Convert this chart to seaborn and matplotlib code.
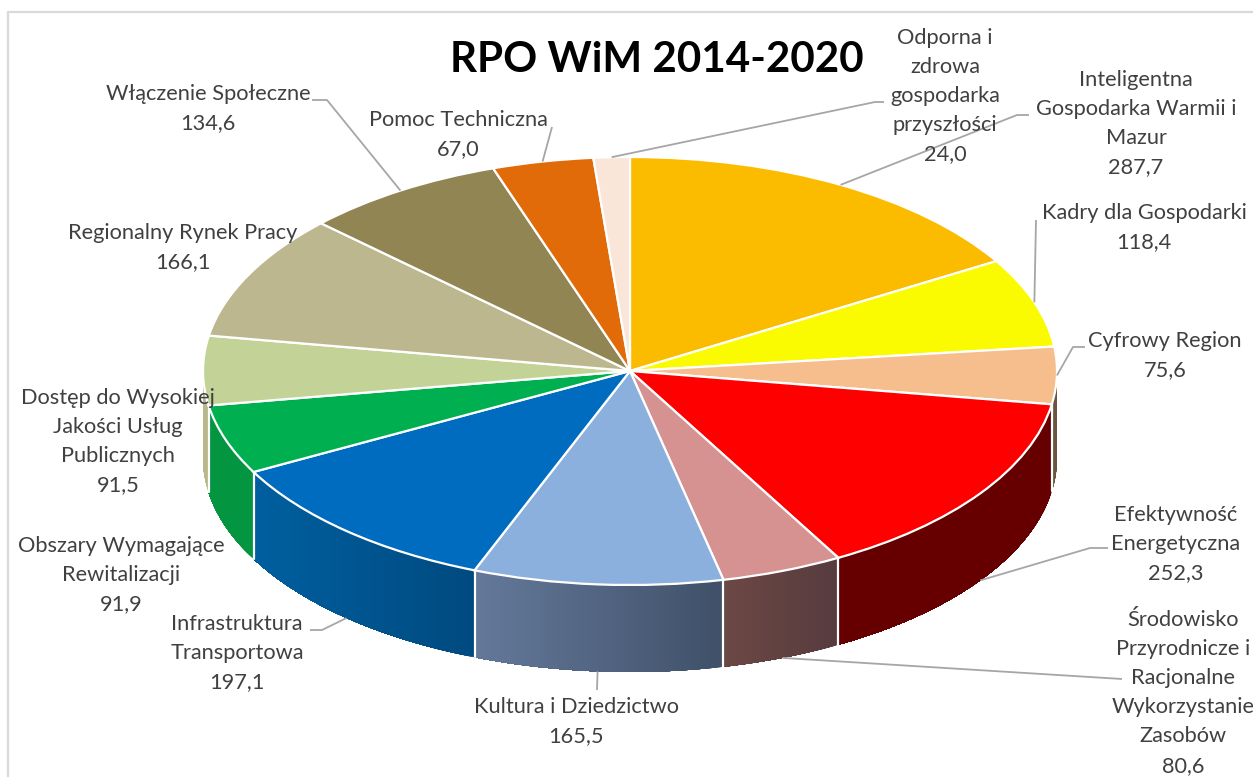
import numpy as np
import matplotlib
matplotlib.use("Agg")
import matplotlib.pyplot as plt
from matplotlib.colors import to_rgb
import seaborn as sns

names = ["Inteligentna\nGospodarka Warmii i\nMazur", "Kadry dla Gospodarki", "Cyfrowy Region",
         "Efektywność\nEnergetyczna", "Środowisko\nPrzyrodnicze i\nRacjonalne\nWykorzystanie\nZasobów",
         "Kultura i Dziedzictwo", "Infrastruktura\nTransportowa", "Obszary Wymagające\nRewitalizacji",
         "Dostęp do Wysokiej\nJakości Usług\nPublicznych", "Regionalny Rynek Pracy", "Włączenie Społeczne",
         "Pomoc Techniczna", "Odporna i\nzdrowa\ngospodarka\nprzyszłości"]
values = [287.7, 118.4, 75.6, 252.3, 80.6, 165.5, 197.1, 91.9, 91.5, 166.1, 134.6, 67.0, 24.0]
top_colors = ["#FBBC00", "#FAFA00", "#F6BD8D", "#FF0000", "#D69291", "#8CB0DE", "#006CBF",
              "#00B050", "#C3D397", "#BDB78F", "#918653", "#E26B09", "#F9E6D8"]
side_left = ["#FBBC00", "#FAFA00", "#7A6650", "#660000", "#6B4844", "#64799B", "#005F9F",
             "#03953F", "#B8B88C", "#BDB78F", "#918653", "#E26B09", "#F9E6D8"]
side_right = ["#FBBC00", "#FAFA00", "#6A5540", "#660000", "#573B3E", "#3F5068", "#004A80",
              "#03953F", "#B8B88C", "#BDB78F", "#918653", "#E26B09", "#F9E6D8"]

label_x = [1136, 1144, 1165, 1176, 1183, 576, 237, 121, 118, 183, 208, 458, 945]
label_y = [79, 212, 340, 514, 619, 706, 623, 545, 397, 232, 93, 119, 37]
# leader path after the slice anchor: list of pixel waypoints (empty = no leader)
leaders = [[(1017, 115), (1029, 115)], [(1036, 220)], [(1073, 347), (1085, 347)],
           [(1090, 548), (1108, 548)], [(1122, 679)], [(597, 690)], [(322, 630), (310, 630)],
           [], [], [], [(327, 100), (312, 100)], [(552, 127)], [(875, 102), (884, 102)]]

W, H = 1253, 777
CX, CY, RX, RY, DEPTH = 630, 371, 427, 214, 87

sns.set_theme(style="white")
plt.rcParams["font.family"] = ["Lato", "DejaVu Sans"]
palette = sns.color_palette(top_colors)

fig = plt.figure(figsize=(W / 100, H / 100), dpi=100, facecolor="white")
ax = fig.add_axes([0, 0, 1, 1])
ax2 = fig.add_axes([0, 0, 1, 1], facecolor="none")
ax2.set_xlim(0, W); ax2.set_ylim(H, 0); ax2.axis("off")

edges = np.concatenate([[0], np.cumsum(values)]) / np.sum(values) * 360
d = DEPTH / RY

# side walls (only the front half of the disc, 90..270 degrees clockwise from top)
for i in range(len(values)):
    a0, a1 = max(edges[i], 90), min(edges[i + 1], 270)
    if a1 <= a0:
        continue
    cl, cr = np.array(to_rgb(side_left[i])), np.array(to_rgb(side_right[i]))
    th = np.linspace(a0, a1, max(int((a1 - a0) * 3), 3))
    xs0, xs1 = np.sin(np.radians(edges[i])), np.sin(np.radians(edges[i + 1]))
    for k in range(len(th) - 1):
        # every strip runs on to the slice's far end, so no seam can show between strips
        arc = np.radians(np.linspace(th[k], a1, 60))
        px = np.concatenate([np.sin(arc), np.sin(arc[::-1])])
        py = np.concatenate([np.cos(arc), np.cos(arc[::-1]) - d])
        mid = np.radians((th[k] + th[k + 1]) / 2)
        f = float(np.clip((np.sin(mid) - xs1) / (xs0 - xs1), 0, 1)) if xs0 != xs1 else 0.0
        ax.fill(px, py, facecolor=tuple(cl + (cr - cl) * f), lw=0, zorder=1)

for e in edges:
    if 90 < e < 270:
        r = np.radians(e)
        ax.plot([np.sin(r)] * 2, [np.cos(r), np.cos(r) - d], color="white", lw=1.6, zorder=2)

ax.pie(values, colors=palette, startangle=90, counterclock=False, radius=1, center=(0, 0),
       wedgeprops=dict(edgecolor="white", linewidth=1.6, zorder=3))
ax.set_aspect("auto")
ax.set_xlim(-CX / RX, (W - CX) / RX)
ax.set_ylim((CY - H) / RY, CY / RY)
ax.axis("off")

# chart frame
ax2.plot([8, 8, W], [H, 12, 12], color="#D9D9D9", lw=1.6, zorder=1)

# leaders + labels
for i, (n, v) in enumerate(zip(names, values)):
    mid = np.radians((edges[i] + edges[i + 1]) / 2)
    ax_x = CX + RX * np.sin(mid)
    ax_y = CY - RY * np.cos(mid) + (DEPTH if np.cos(mid) < -0.2 else 0)
    if leaders[i]:
        pts = [(ax_x, ax_y)] + leaders[i]
        ax2.plot(*zip(*pts), color="#A6A6A6", lw=1.3, zorder=5, solid_capstyle="butt")
    txt = n + "\n" + f"{v:.1f}".replace(".", ",")
    ax2.text(label_x[i], label_y[i] - 9, txt, ha="center", va="top", fontsize=15.7,
             color="#404040", linespacing=1.57, zorder=6, clip_on=True)

ax2.text(657, 60, "RPO WiM 2014-2020", ha="center", va="center", fontsize=30.3,
         fontweight="bold", color="black", zorder=7)

fig.savefig("out.png", dpi=100, facecolor="white")
